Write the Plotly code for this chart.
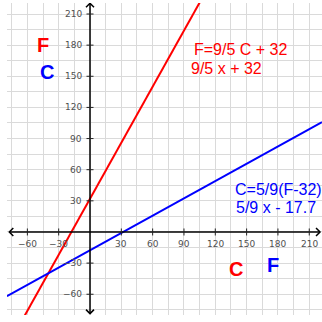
import plotly.graph_objects as go

# ---- data ----
line_names = ["F=9/5 C + 32", "C=5/9(F-32)"]
slopes = [9 / 5, 5 / 9]
intercepts = [32, -17.7]
line_colors = ["#ff0000", "#0000ff"]

x_ticks = [-60, -30, 30, 60, 90, 120, 150, 180, 210]
y_ticks = [-60, -30, 30, 60, 90, 120, 150, 180, 210]

x_range = [-79.5, 222.2]
y_range = [-80.0, 220.6]
axis_x_ends = [-77.3, 220.3]
axis_y_ends = [-78.7, 220.3]

# text labels: (text, x, y, color, size, bold, anchor)
labels = [
    ("F", -45.5, 179.7, "#ff0000", 20, True, "center"),
    ("C", -41.5, 154.1, "#0000ff", 20, True, "center"),
    ("F=9/5 C + 32", 97.4, 175.6, "#ff0000", 16, False, "left"),
    ("9/5 x + 32", 95.1, 157.8, "#ff0000", 16, False, "left"),
    ("C=5/9(F-32)", 136.7, 40.5, "#0000ff", 16, False, "left"),
    ("5/9 x - 17.7", 137.6, 23.4, "#0000ff", 16, False, "left"),
    ("C", 140.3, -35.6, "#ff0000", 20, True, "center"),
    ("F", 175.6, -31.6, "#0000ff", 20, True, "center"),
]

W = H = 322
fig = go.Figure()

# function lines
for name, m, b, c in zip(line_names, slopes, intercepts, line_colors):
    xs = [x_range[0], x_range[1]]
    ys = [m * v + b for v in xs]
    fig.add_trace(go.Scatter(x=xs, y=ys, mode="lines", name=name,
                             line=dict(color=c, width=2), hoverinfo="skip"))

shapes = []
# axes
shapes.append(dict(type="line", xref="x", yref="y", x0=axis_x_ends[0], x1=axis_x_ends[1],
                   y0=0, y1=0, line=dict(color="black", width=1.5), layer="above"))
shapes.append(dict(type="line", xref="x", yref="y", y0=axis_y_ends[0], y1=axis_y_ends[1],
                   x0=0, x1=0, line=dict(color="black", width=1.5), layer="above"))
# arrow chevrons (pixel sized)
a = 4
arrows = [
    (axis_x_ends[0], 0, f"M {a},{a} L 0,0 L {a},{-a}"),
    (axis_x_ends[1], 0, f"M {-a},{a} L 0,0 L {-a},{-a}"),
    (0, axis_y_ends[1], f"M {-a},{-a} L 0,0 L {a},{-a}"),
    (0, axis_y_ends[0], f"M {-a},{a} L 0,0 L {a},{a}"),
]
for ax_, ay_, p in arrows:
    shapes.append(dict(type="path", xref="x", yref="y", xsizemode="pixel", ysizemode="pixel",
                       xanchor=ax_, yanchor=ay_, path=p,
                       line=dict(color="black", width=1.5), layer="above"))
# tick marks
tl = 3.5
for t in x_ticks:
    shapes.append(dict(type="line", xref="x", yref="y", x0=t, x1=t, ysizemode="pixel",
                       yanchor=0, y0=-tl, y1=tl, line=dict(color="#222222", width=1)))
for t in y_ticks:
    shapes.append(dict(type="line", xref="x", yref="y", y0=t, y1=t, xsizemode="pixel",
                       xanchor=0, x0=-tl, x1=tl, line=dict(color="#222222", width=1)))

annotations = []
tick_font = dict(family="DejaVu Sans", size=9, color="#505050")
for t in x_ticks:
    annotations.append(dict(x=t, y=0, xref="x", yref="y", text=str(t).replace("-", "\u2212"),
                            showarrow=False, xanchor="center", yanchor="middle",
                            yshift=-12, font=tick_font))
for t in y_ticks:
    annotations.append(dict(x=0, y=t, xref="x", yref="y", text=str(t).replace("-", "\u2212"),
                            showarrow=False, xanchor="right", yanchor="middle",
                            xshift=-6, font=tick_font))
for txt, lx, ly, col, sz, bold, anc in labels:
    annotations.append(dict(x=lx, y=ly, xref="x", yref="y",
                            text=f"<b>{txt}</b>" if bold else txt,
                            showarrow=False, xanchor=anc, yanchor="middle",
                            font=dict(family="Liberation Sans, Arial", size=sz, color=col)))

fig.update_layout(
    width=W, height=H,
    margin=dict(l=0, r=0, t=0, b=0, pad=0),
    paper_bgcolor="white", plot_bgcolor="white",
    showlegend=False,
    shapes=shapes, annotations=annotations,
    xaxis=dict(range=x_range, domain=[7 / W, 1], dtick=15, tick0=0, showgrid=True,
               gridcolor="#dadada", gridwidth=1.2, zeroline=False, showline=False,
               showticklabels=False, ticks="", fixedrange=True),
    yaxis=dict(range=y_range, domain=[7 / H, (H - 3) / H], dtick=15, tick0=0, showgrid=True,
               gridcolor="#dadada", gridwidth=1.2, zeroline=False, showline=False,
               showticklabels=False, ticks="", fixedrange=True),
)

fig.write_html("out.html")
